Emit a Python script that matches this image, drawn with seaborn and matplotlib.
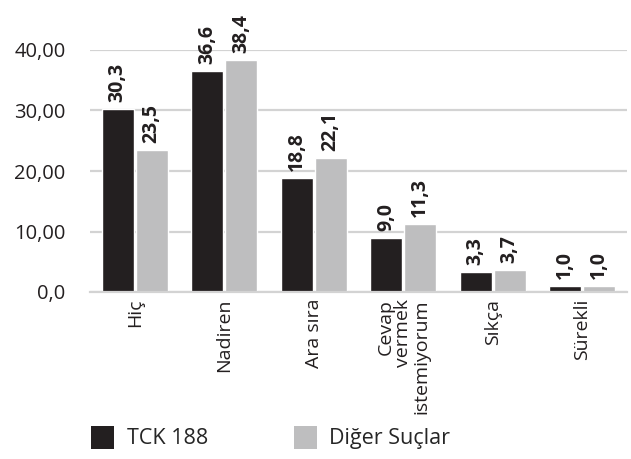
import pandas as pd
import matplotlib
matplotlib.use("Agg")
import matplotlib.pyplot as plt
import seaborn as sns
from matplotlib.patches import Patch

# Data
categories = ["Hiç", "Nadiren", "Ara sıra", "Cevap\nvermek\nistemiyorum", "Sıkça", "Sürekli"]
tck188 = [30.3, 36.6, 18.8, 9.0, 3.3, 1.0]
diger = [23.5, 38.4, 22.1, 11.3, 3.7, 1.0]
series_names = ["TCK 188", "Diğer Suçlar"]
y_ticks = [0, 10, 20, 30, 40]
y_tick_labels = ["0,0", "10,00", "20,00", "30,00", "40,00"]

df = pd.DataFrame({
    "kategori": categories * 2,
    "deger": tck188 + diger,
    "grup": [series_names[0]] * len(categories) + [series_names[1]] * len(categories),
})

sns.set_style("white")
plt.rcParams["font.family"] = ["Open Sans", "DejaVu Sans"]

colors = ["#231f20", "#bebebf"]

fig = plt.figure(figsize=(6.31, 4.59), dpi=100)
ax = fig.add_axes([90 / 631, 1 - 292 / 459, 537 / 631, 242 / 459])

sns.barplot(data=df, x="kategori", y="deger", hue="grup", palette=colors,
            width=0.76, gap=0.06, saturation=1, legend=False, ax=ax)

ax.set_xlim(-0.5, 5.5)
ax.set_ylim(0, 40)
ax.set_xlabel("")
ax.set_ylabel("")

# gridlines
ax.set_yticks(y_ticks)
ax.set_yticklabels(y_tick_labels, fontsize=14.5, color="#231f20")
ax.yaxis.grid(True, color="#d3d3d3", linewidth=1.6)
ax.set_axisbelow(True)
ax.tick_params(axis="y", length=7.5, width=1.1, color="#d3d3d3", pad=10)
ax.tick_params(axis="x", length=0, pad=5)
ax.set_xticks(range(len(categories)))
ax.set_xticklabels(categories, rotation=90, fontsize=14, color="#231f20",
                   va="top", ha="center", multialignment="right", linespacing=1.0)

for side in ["top", "right", "left"]:
    ax.spines[side].set_visible(False)
ax.spines["bottom"].set_color("#d3d3d3")
ax.spines["bottom"].set_linewidth(1.6)

# value labels
for container, vals in zip(ax.containers, [tck188, diger]):
    labels = [f"{v:.1f}".replace(".", ",") for v in vals]
    ax.bar_label(container, labels=labels, rotation=90, padding=5,
                 fontsize=14, fontweight="bold", color="#231f20")

# legend
handles = [Patch(facecolor=c, edgecolor="none") for c in colors]
fig.legend(handles, series_names, loc="lower left", bbox_to_anchor=(76 / 631, -0.012),
           ncol=2, frameon=False, fontsize=15.5, handlelength=1.05, handleheight=1.25,
           handletextpad=0.6, columnspacing=4.0, borderaxespad=0.3)

fig.savefig("out.png", dpi=100)
